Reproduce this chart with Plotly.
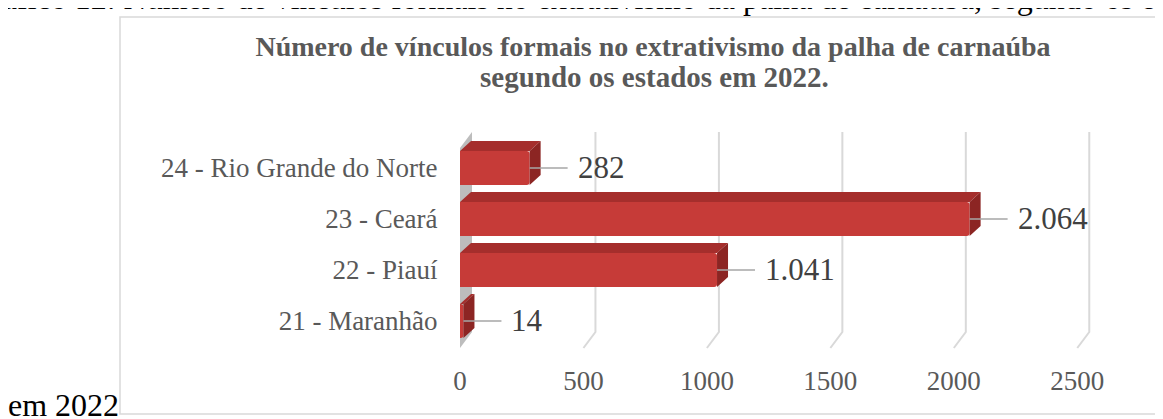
import plotly.graph_objects as go

# dados
estados = ["21 - Maranhão", "22 - Piauí", "23 - Ceará", "24 - Rio Grande do Norte"]
vinculos = [14, 1041, 2064, 282]
x_ticks = [0, 500, 1000, 1500, 2000, 2500]

titulo_l1 = "Número de vínculos formais no extrativismo da palha de carnaúba"
titulo_l2 = "segundo os estados em 2022."
legenda_topo = "Gráfico 12: Número de vínculos formais no extrativismo da palha de carnaúba, segundo os estados"
legenda_fim = "em 2022"

# the page body has an 8px margin, so the figure starts at (8, 8) on screen
S = 8
W, H = 1163 - S, 419 - S
PLOT_L, PLOT_R, PLOT_T, PLOT_B = 460, 1139, 125, 350   # screen px
ML, MR, MT, MB = PLOT_L - S, W - (PLOT_R - S), PLOT_T - S, H - (PLOT_B - S)
PW, PH = PLOT_R - PLOT_L, PLOT_B - PLOT_T
X_MAX = 2750
Y_LO, Y_HI = -0.569, 3.843
PX_X = PW / X_MAX          # pixels per unit
PX_Y = PH / (Y_HI - Y_LO)

FONT = "Liberation Serif"
GREY = "#595959"


def dx(px):
    return px / PX_X


def dy(px):
    return px / PX_Y


def paper_x(px):
    return (px - PLOT_L) / PW


def paper_y(py):
    return (PLOT_B - py) / PH


pos = list(range(len(estados)))
bar_w = 0.67

# "3D" depth offsets
bdx, bdy = dx(11), dy(10)
gdx, gdy = dx(12), dy(16)
floor_front = Y_LO + dy(2)
floor_back = floor_front + gdy
wall_top = floor_back + dy(200)

fig = go.Figure()

# front faces
fig.add_trace(go.Bar(
    x=vinculos, y=pos, orientation="h", width=bar_w,
    marker=dict(color="#C63B38", line=dict(width=0)),
    hoverinfo="skip",
))

# top faces and right side faces
tx, ty, sx, sy = [], [], [], []
for v, p in zip(vinculos, pos):
    top = p + bar_w / 2
    bot = p - bar_w / 2
    tx += [0, v, v + bdx, bdx, 0, None]
    ty += [top, top, top + bdy, top + bdy, top, None]
    sx += [v, v + bdx, v + bdx, v, v, None]
    sy += [bot, bot + bdy, top + bdy, top, bot, None]

fig.add_trace(go.Scatter(x=tx, y=ty, fill="toself", fillcolor="#A52E2C",
                         mode="lines", line=dict(width=0), hoverinfo="skip"))
fig.add_trace(go.Scatter(x=sx, y=sy, fill="toself", fillcolor="#8C2523",
                         mode="lines", line=dict(width=0), hoverinfo="skip"))

shapes = []
# back wall gridlines with floor slant
for t in x_ticks[1:]:
    shapes.append(dict(
        type="path", xref="x", yref="y", layer="below",
        path=f"M {t + gdx} {wall_top} L {t + gdx} {floor_back} L {t} {floor_front}",
        line=dict(color="#D9D9D9", width=2),
    ))
# left wall
shapes.append(dict(
    type="path", xref="x", yref="y", layer="below",
    path=(f"M 0 {floor_front} L {gdx} {floor_back} L {gdx} {wall_top} "
          f"L 0 {wall_top - gdy} Z"),
    fillcolor="#BDBDBD", line=dict(width=0),
))
# chart area border
shapes.append(dict(
    type="rect", xref="paper", yref="paper", layer="below",
    x0=paper_x(120), x1=paper_x(1250), y0=paper_y(414), y1=paper_y(17),
    line=dict(color="#D9D9D9", width=1.5),
))

annotations = []
for v, p in zip(vinculos, pos):
    annotations.append(dict(
        x=v, y=p, xref="x", yref="y",
        text=f"{v:,}".replace(",", "."),
        showarrow=True, arrowhead=0, arrowwidth=1.5, arrowcolor="#A6A6A6",
        ax=46, ay=0, xanchor="left", startstandoff=8, standoff=0,
        font=dict(family=FONT, size=31, color="#404040"),
    ))

annotations.append(dict(
    x=paper_x(654), y=paper_y(77), xref="paper", yref="paper",
    xanchor="center", yanchor="middle", showarrow=False,
    text=f"<b>{titulo_l2}</b>", font=dict(family=FONT, size=29, color=GREY),
))
annotations.append(dict(
    x=paper_x(-33), y=paper_y(18), xref="paper", yref="paper",
    xanchor="left", yanchor="bottom", showarrow=False,
    text=legenda_topo, font=dict(family=FONT, size=32, color="#000000"),
))
annotations.append(dict(
    x=paper_x(6), y=paper_y(425), xref="paper", yref="paper",
    xanchor="left", yanchor="bottom", showarrow=False,
    text=legenda_fim, font=dict(family=FONT, size=32, color="#000000"),
))

fig.update_layout(
    width=W, height=H,
    margin=dict(l=ML, r=MR, t=MT, b=MB),
    paper_bgcolor="white", plot_bgcolor="rgba(0,0,0,0)",
    showlegend=False,
    barcornerradius=3,
    title=dict(
        text=f"<b>{titulo_l1}</b>",
        x=(653 - S) / W, xref="container", xanchor="center",
        y=1 - (46 - S) / H, yref="container", yanchor="middle",
        font=dict(family=FONT, size=28, color=GREY),
    ),
    xaxis=dict(
        range=[0, X_MAX], tickvals=x_ticks, showgrid=False, zeroline=False,
        showline=False, ticks="outside", ticklen=7, tickcolor="rgba(0,0,0,0)",
        tickfont=dict(family=FONT, size=27, color=GREY),
    ),
    yaxis=dict(
        range=[Y_LO, Y_HI], tickvals=pos, ticktext=estados, showgrid=False,
        zeroline=False, showline=False, ticks="outside", ticklen=16,
        tickcolor="rgba(0,0,0,0)",
        tickfont=dict(family=FONT, size=27, color=GREY),
    ),
    shapes=shapes,
    annotations=annotations,
)

fig.write_html("out.html")
